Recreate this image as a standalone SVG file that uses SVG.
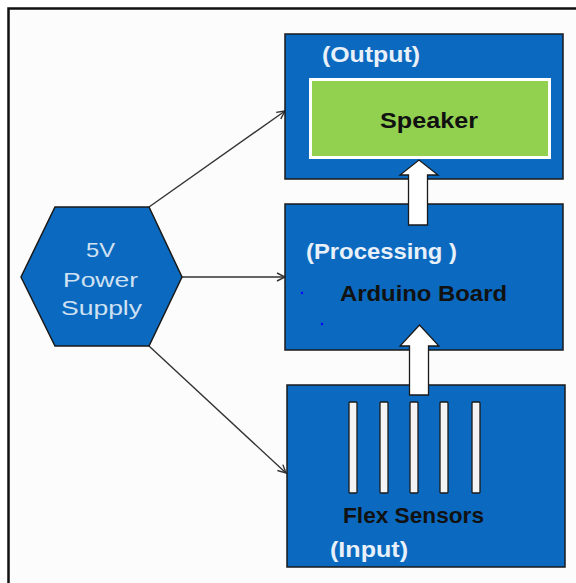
<svg xmlns="http://www.w3.org/2000/svg" width="576" height="583" viewBox="0 0 576 583">
<defs>
<style>
.box{fill:#0b6abf;stroke:#1a1a1a;stroke-width:1.5}
.wt{font-family:"Liberation Sans",Arial,sans-serif;font-weight:bold;font-size:22px;fill:#e8f0fa}
.bt{font-family:"Liberation Sans",Arial,sans-serif;font-weight:bold;font-size:22px;fill:#111}
.ht{font-family:"Liberation Sans",Arial,sans-serif;font-size:21px;fill:#cfe1f3}
.bar{fill:#f4f4f4;stroke:#1a1a1a;stroke-width:1.3}
.blk{fill:#ffffff;stroke:#1a1a1a;stroke-width:1.3}
.con{stroke:#333;stroke-width:1.4;fill:none}
</style>
<marker id="ah" markerWidth="12" markerHeight="12" refX="10" refY="6" orient="auto" markerUnits="userSpaceOnUse">
<path d="M2,2 L10,6 L2,10" fill="none" stroke="#333" stroke-width="1.4"/>
</marker>
</defs>
<rect x="0" y="0" width="576" height="583" fill="#ffffff"/>
<rect x="8" y="8" width="570" height="580" fill="#fcfcfc"/>
<path d="M8.5,583 V8.5 H576" fill="none" stroke="#111" stroke-width="2.5"/>

<g id="connectors">
<line class="con" x1="149" y1="207" x2="285" y2="111" marker-end="url(#ah)"/>
<line class="con" x1="182" y1="277" x2="285" y2="277" marker-end="url(#ah)"/>
<line class="con" x1="149" y1="346" x2="286" y2="473" marker-end="url(#ah)"/>
</g>

<g id="power">
<polygon points="55,207 149,207 182,277 149,346 55,346 21,277" fill="#0b6abf" stroke="#1a1a1a" stroke-width="1.5"/>
<text class="ht" x="86" y="257" textLength="29" lengthAdjust="spacingAndGlyphs">5V</text>
<text class="ht" x="63" y="287" textLength="75" lengthAdjust="spacingAndGlyphs">Power</text>
<text class="ht" x="61" y="315" textLength="81" lengthAdjust="spacingAndGlyphs">Supply</text>
</g>

<g id="output">
<rect class="box" x="285" y="34" width="278" height="145"/>
<text class="wt" x="322" y="62" textLength="98" lengthAdjust="spacingAndGlyphs">(Output)</text>
<rect x="310.5" y="79.5" width="239" height="78" fill="#92d050" stroke="#ffffff" stroke-width="3"/>
<text class="bt" x="380" y="128" textLength="98" lengthAdjust="spacingAndGlyphs">Speaker</text>
</g>

<g id="processing">
<rect class="box" x="285" y="204" width="278" height="146"/>
<text class="wt" x="306" y="259" textLength="151" lengthAdjust="spacingAndGlyphs">(Processing )</text>
<text class="bt" x="340" y="301" textLength="167" lengthAdjust="spacingAndGlyphs">Arduino Board</text>
<circle cx="302" cy="293" r="1.2" fill="#0000ff"/>
<circle cx="322" cy="324" r="1.2" fill="#0000ff"/>
</g>

<g id="input">
<rect class="box" x="287" y="385" width="278" height="182"/>
<rect class="bar" x="349" y="402" width="8" height="91" rx="1"/>
<rect class="bar" x="380" y="402" width="8" height="91" rx="1"/>
<rect class="bar" x="410" y="402" width="8" height="91" rx="1"/>
<rect class="bar" x="440" y="402" width="8" height="91" rx="1"/>
<rect class="bar" x="472" y="402" width="8" height="91" rx="1"/>
<text class="bt" x="343" y="523" textLength="141" lengthAdjust="spacingAndGlyphs">Flex Sensors</text>
<text class="wt" x="330" y="557" textLength="78" lengthAdjust="spacingAndGlyphs">(Input)</text>
</g>

<g id="block-arrows">
<polygon class="blk" points="408.5,225 408.5,175 400,175 419,160 438,175 427.5,175 427.5,225"/>
<polygon class="blk" points="409.5,395 409.5,346 400,346 419.5,325 439,346 428.5,346 428.5,395"/>
</g>
</svg>
